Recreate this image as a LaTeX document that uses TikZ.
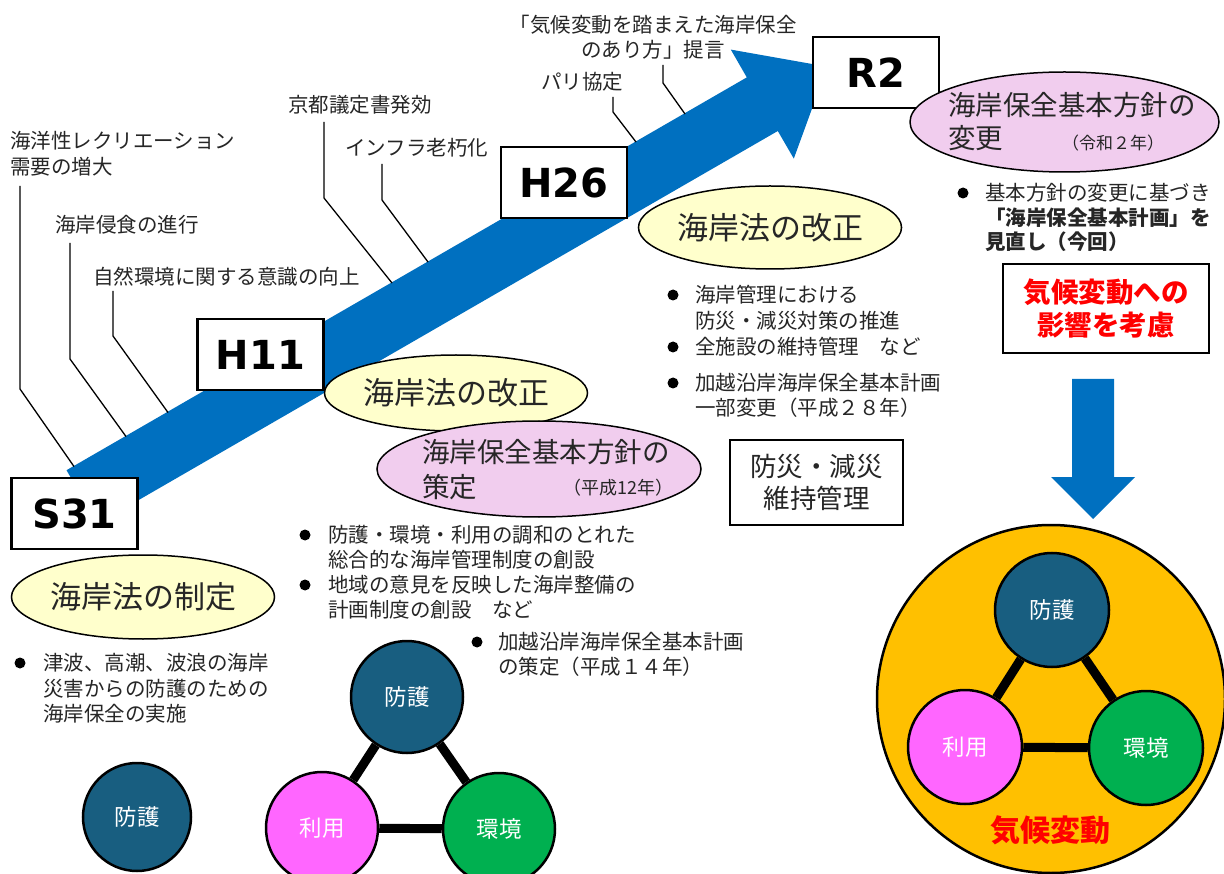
\documentclass[tikz,border=0pt]{standalone}
\usepackage{fontspec}
\usetikzlibrary{shapes.geometric}
\newfontfamily\jp{Noto Sans CJK JP}
\newfontfamily\lat{DejaVu Sans}
\definecolor{arrowblue}{RGB}{0,112,192}
\definecolor{txtgray}{RGB}{38,38,38}
\definecolor{lightyellow}{RGB}{255,255,204}
\definecolor{lightpink}{RGB}{241,205,238}
\definecolor{tealball}{RGB}{24,94,128}
\definecolor{pinkball}{RGB}{255,102,255}
\definecolor{greenball}{RGB}{0,176,80}
\definecolor{orangebg}{RGB}{255,192,0}
\definecolor{redtxt}{RGB}{255,0,0}
\tikzset{
 txt/.style={font=\jp\fontsize{20.5}{26}\selectfont, inner sep=0pt, align=left, anchor=base west, text=txtgray},
 yearbox/.style={draw=black, line width=2.6pt, fill=white, inner sep=0pt, minimum width=126pt, minimum height=71pt, font=\lat\bfseries\fontsize{40}{40}\selectfont},
 leader/.style={line width=1.3pt, draw=black},
 yell/.style={ellipse, draw=black, line width=1.5pt, fill=lightyellow, inner sep=0pt, font=\jp\fontsize{31}{31}\selectfont, text=txtgray},
 pinkell/.style={ellipse, draw=black, line width=1.5pt, fill=lightpink, inner sep=0pt},
 ball/.style={circle, draw=black, line width=2.5pt, inner sep=0pt, text=white, font=\jp\fontsize{22.5}{22.5}\selectfont},
 link/.style={line width=9pt, draw=black},
 bullet/.style={circle, fill=black, inner sep=0pt, minimum size=11pt},
 framebox/.style={draw=black, line width=2pt, fill=white, inner sep=0pt, align=center},
}
\begin{document}
\begin{tikzpicture}[x=1pt,y=-1pt]
\useasboundingbox (0,0) rectangle (1224,874);
\clip (0,0) rectangle (1224,874);
\fill[white] (0,0) rectangle (1224,874);
% main arrow
\fill[arrowblue] (66.5,470.2) -- (746.8,77.4) -- (730.8,49.6) -- (827.3,66.7) -- (793.8,158.6) -- (777.8,131) -- (97.5,523.8) -- cycle;
% leader labels (base anchor = baseline of last line)
\node[txt] (l1) at (10,174.8) {海洋性レクリエーション\\需要の増大};
\node[txt] (l2) at (55,232.8) {海岸侵食の進行};
\node[txt] (l3) at (93,284.8) {自然環境に関する意識の向上};
\node[txt] (l4) at (288,112.8) {京都議定書発効};
\node[txt] (l5) at (345,155.8) {インフラ老朽化};
\node[txt] (l6) at (541,89.8) {パリ協定};
\node[txt, align=center, anchor=base, font=\jp\fontsize{20.5}{24.5}\selectfont] (l7) at (653,57.3) {「気候変動を踏まえた海岸保全\\のあり方」提言};
% leader coordinates
\coordinate (a1) at (20,186); \coordinate (b1) at (20,389); \coordinate (c1) at (74,466.5);
\coordinate (a2) at (70,243); \coordinate (b2) at (70,359); \coordinate (c2) at (126,436.5);
\coordinate (a3) at (113,291); \coordinate (b3) at (113,336); \coordinate (c3) at (168,412.5);
\coordinate (a4) at (324,122); \coordinate (b4) at (324,198); \coordinate (c4) at (392,283);
\coordinate (a5) at (382,164); \coordinate (b5) at (382,200); \coordinate (c5) at (428,262);
\coordinate (a6) at (613,97); \coordinate (b6) at (613,112); \coordinate (c6) at (636,142);
\coordinate (a7) at (663,65); \coordinate (b7) at (663,83); \coordinate (c7) at (685,114);
\foreach \i in {1,...,7} { \draw[leader] (a\i) -- (b\i) -- (c\i); }
% year boxes
\node[yearbox] (s31) at (74.5,513.5) {S31};
\node[yearbox] (h11) at (260.5,354.5) {H11};
\node[yearbox] (h26) at (564,182.5) {H26};
\node[yearbox] (r2) at (876,72.5) {R2};
% ellipses
\node[yell, minimum width=254pt, minimum height=84pt] (e1) at (143,597) {海岸法の制定};
\node[yell, minimum width=252pt, minimum height=76pt] (e2) at (456,393) {海岸法の改正};
\node[yell, minimum width=254pt, minimum height=83pt] (e3) at (770,227.5) {海岸法の改正};
\node[pinkell, minimum width=324pt, minimum height=96pt] (p1) at (539,469) {};
\node[pinkell, minimum width=309pt, minimum height=100pt] (p2) at (1064.5,122) {};
\node[txt, font=\jp\fontsize{27.5}{35}\selectfont] (p1t) at (422,497.5) {海岸保全基本方針の\\策定};
\node[txt, font=\jp\fontsize{18}{18}\selectfont] (p1y) at (563,494) {（平成12年）};
\node[txt, font=\jp\fontsize{27.5}{33}\selectfont] (p2t) at (948,148.5) {海岸保全基本方針の\\変更};
\node[txt, font=\jp\fontsize{17}{17}\selectfont] (p2y) at (1062,149.5) {（令和２年）};
% S31 bullets
\node[bullet] (bs1) at (20,663) {};
\node[txt, font=\jp\fontsize{20.5}{25.5}\selectfont] (ts1) at (43,721.8) {津波、高潮、波浪の海岸\\災害からの防護のための\\海岸保全の実施};
% H11 bullets
\node[bullet] (bh1) at (305,535) {};
\node[bullet] (bh2) at (305,585) {};
\node[txt, font=\jp\fontsize{20.5}{25}\selectfont] (th1) at (328,617.8) {防護・環境・利用の調和のとれた\\総合的な海岸管理制度の創設\\地域の意見を反映した海岸整備の\\計画制度の創設　など};
\node[bullet] (bh3) at (477,642) {};
\node[txt, font=\jp\fontsize{20.5}{25}\selectfont] (th2) at (498,674.8) {加越沿岸海岸保全基本計画\\の策定（平成１４年）};
% H26 bullets
\node[bullet] (bk1) at (673,295) {};
\node[bullet] (bk2) at (673,347) {};
\node[bullet] (bk3) at (673,383) {};
\node[txt, font=\jp\fontsize{20.5}{26}\selectfont] (tk1) at (695,354.8) {海岸管理における\\防災・減災対策の推進\\全施設の維持管理　など};
\node[txt, font=\jp\fontsize{20.5}{25}\selectfont] (tk2) at (695,415.8) {加越沿岸海岸保全基本計画\\一部変更（平成２８年）};
\node[framebox, minimum width=173pt, minimum height=85pt, font=\jp\fontsize{26.5}{32}\selectfont, text=txtgray] (bosai) at (816.5,482.5) {防災・減災\\維持管理};
% R2 bullets
\node[bullet] (br1) at (963,193) {};
\node[txt, font=\jp\fontsize{20.5}{24.5}\selectfont] (tr1) at (985,249.8) {基本方針の変更に基づき\\\textbf{「海岸保全基本計画」を}\\\textbf{見直し（今回）}};
\node[framebox, minimum width=206pt, minimum height=89pt, font=\jp\bfseries\fontsize{27.5}{33}\selectfont, text=redtxt] (kikou) at (1106,308.5) {気候変動への\\影響を考慮};
% down arrow
\fill[arrowblue] (1072,379) -- (1114,379) -- (1114,477) -- (1135,477) -- (1093,519) -- (1051,477) -- (1072,477) -- cycle;
% climate circle
\node[circle, draw=black, line width=2.5pt, fill=orangebg, inner sep=0pt, minimum size=348pt] (clim) at (1051,699) {};
\node[font=\jp\bfseries\fontsize{30}{30}\selectfont, text=redtxt, inner sep=0pt] (climt) at (1050,830) {気候変動};
% right triangle
\node[ball, fill=tealball, minimum size=114pt] (rp) at (1052,610) {防護};
\node[ball, fill=pinkball, minimum size=114pt] (ru) at (965,747) {利用};
\node[ball, fill=greenball, minimum size=114pt] (re) at (1146,748) {環境};
\draw[link] (rp) -- (ru);
\draw[link] (rp) -- (re);
\draw[link] (ru) -- (re);
% left single
\node[ball, fill=tealball, minimum size=108pt] (sp) at (137,817) {防護};
% middle triangle
\node[ball, fill=tealball, minimum size=112pt] (mp) at (407,697) {防護};
\node[ball, fill=pinkball, minimum size=112pt] (mu) at (322,828) {利用};
\node[ball, fill=greenball, minimum size=112pt] (me) at (499,829) {環境};
\draw[link] (mp) -- (mu);
\draw[link] (mp) -- (me);
\draw[link] (mu) -- (me);
\end{tikzpicture}
\end{document}
